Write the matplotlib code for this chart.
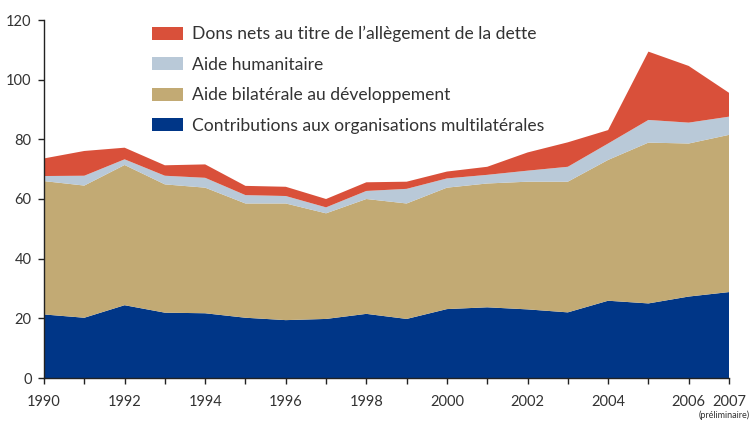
import matplotlib
matplotlib.use("Agg")
import matplotlib.pyplot as plt
from matplotlib.patches import Patch

plt.rcParams['font.family'] = ['Lato', 'DejaVu Sans']

years = list(range(1990, 2008))

# components of the stack, bottom to top
multilaterales = [21.3, 20.2, 24.4, 21.9, 21.7, 20.2, 19.4, 19.8, 21.5,
                  19.8, 23.1, 23.7, 23.0, 22.0, 25.9, 25.0, 27.3, 28.8]
bilaterale = [44.7, 44.3, 47.0, 43.0, 42.1, 38.3, 39.1, 35.4, 38.5,
              38.7, 40.7, 41.5, 42.8, 43.8, 47.2, 53.9, 51.3, 52.7]
humanitaire = [1.7, 3.3, 1.9, 2.9, 3.3, 2.8, 2.5, 2.0, 2.7,
               4.9, 3.1, 2.9, 3.7, 5.0, 5.5, 7.6, 7.0, 6.1]
dette = [5.9, 8.3, 3.9, 3.5, 4.5, 3.1, 3.1, 2.8, 2.9,
         2.4, 2.3, 2.7, 6.1, 8.2, 4.5, 22.9, 19.0, 8.0]

labels = ["Contributions aux organisations multilatérales",
          "Aide bilatérale au développement",
          "Aide humanitaire",
          "Dons nets au titre de l\u2019allègement de la dette"]
colors = ["#003687", "#C2AA74", "#B9C9D8", "#D9503A"]

xtick_pos = [1990, 1992, 1994, 1996, 1998, 2000, 2002, 2004, 2006, 2007]

fig = plt.figure(figsize=(7.52, 4.21), dpi=100)
ax = fig.add_axes([44 / 752, 1 - 378 / 421, 685 / 752, 358 / 421])

ax.stackplot(years, multilaterales, bilaterale, humanitaire, dette,
             colors=colors, linewidth=0)

ax.set_xlim(1990, 2007)
ax.set_ylim(0, 120)
ax.set_yticks(range(0, 121, 20))
ax.set_xticks(years)
ax.set_xticklabels([str(y) if y in xtick_pos else "" for y in years])

for side in ("top", "right"):
    ax.spines[side].set_visible(False)
for side in ("left", "bottom"):
    ax.spines[side].set_color("#222222")
    ax.spines[side].set_linewidth(1.0)

ax.tick_params(axis="both", direction="out", length=4, width=1,
               color="#222222", labelcolor="#333333", labelsize=10.5)
ax.tick_params(axis="x", pad=8)
ax.tick_params(axis="y", pad=5)

fig.text(0.997, 0.002, "(préliminaire)", ha="right", va="bottom",
         fontsize=6.5, color="#333333")

handles = [Patch(facecolor=c, edgecolor="none") for c in colors]
leg = ax.legend(handles[::-1], labels[::-1], loc="upper left",
                bbox_to_anchor=(0.147, 1.003), frameon=False,
                fontsize=12.6, handlelength=1.8, handleheight=0.8,
                handletextpad=0.5, labelspacing=0.83, borderaxespad=0)
for t in leg.get_texts():
    t.set_color("#333333")

fig.savefig("out.png", dpi=100)
